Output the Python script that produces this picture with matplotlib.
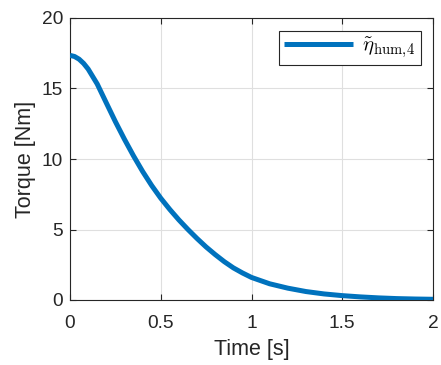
import matplotlib
matplotlib.use("Agg")
import matplotlib.pyplot as plt

# Human torque estimate over time
time_s = [0.0, 0.025, 0.05, 0.075, 0.1, 0.15, 0.2, 0.25, 0.3, 0.35, 0.4, 0.45,
          0.5, 0.55, 0.6, 0.65, 0.7, 0.75, 0.8, 0.85, 0.9, 0.95, 1.0, 1.1,
          1.2, 1.3, 1.4, 1.5, 1.6, 1.7, 1.8, 1.9, 2.0]
torque_nm = [17.35, 17.27, 17.08, 16.78, 16.38, 15.32, 13.98, 12.65, 11.4,
             10.22, 9.12, 8.12, 7.22, 6.42, 5.68, 5.0, 4.36, 3.76, 3.22, 2.72,
             2.28, 1.92, 1.6, 1.15, 0.84, 0.6, 0.43, 0.31, 0.22, 0.15, 0.1,
             0.07, 0.05]
x_ticks = [0, 0.5, 1, 1.5, 2]
x_tick_labels = ["0", "0.5", "1", "1.5", "2"]
y_ticks = [0, 5, 10, 15, 20]
y_tick_labels = ["0", "5", "10", "15", "20"]
series_label = r"$\tilde{\eta}_{\mathrm{hum},\!4}$"

plt.rcParams["font.family"] = ["Liberation Sans", "DejaVu Sans"]
plt.rcParams["mathtext.fontset"] = "cm"

fig = plt.figure(figsize=(4.41, 3.65), dpi=100)
ax = fig.add_axes([70 / 441, 65 / 365, 363 / 441, 282 / 365])

ax.plot(time_s, torque_nm, color="#0072BD", lw=3.6, label=series_label,
        solid_capstyle="butt", solid_joinstyle="round", zorder=3)

ax.set_xlim(0, 2)
ax.set_ylim(0, 20)
ax.set_xticks(x_ticks)
ax.set_xticklabels(x_tick_labels)
ax.set_yticks(y_ticks)
ax.set_yticklabels(y_tick_labels)
ax.grid(True, color="#DFDFDF", lw=0.8, zorder=0)
ax.set_axisbelow(True)

ax.tick_params(direction="in", length=4, width=0.8, colors="#262626",
               labelsize=13.8, top=True, right=True)
ax.tick_params(axis="x", pad=11)
ax.tick_params(axis="y", pad=5)
for sp in ax.spines.values():
    sp.set_color("#262626")
    sp.set_linewidth(0.8)

ax.set_xlabel("Time [s]", fontsize=15.5, color="#262626", labelpad=5)
ax.set_ylabel("Torque [Nm]", fontsize=15.5, color="#262626", labelpad=4)

leg = ax.legend(loc="upper right", fontsize=15, frameon=True, fancybox=False,
                edgecolor="#262626", framealpha=1, handlelength=3.3,
                borderaxespad=0.6, borderpad=0.25, handletextpad=0.45)
leg.get_frame().set_linewidth(0.8)

fig.savefig("out.png", dpi=100)
